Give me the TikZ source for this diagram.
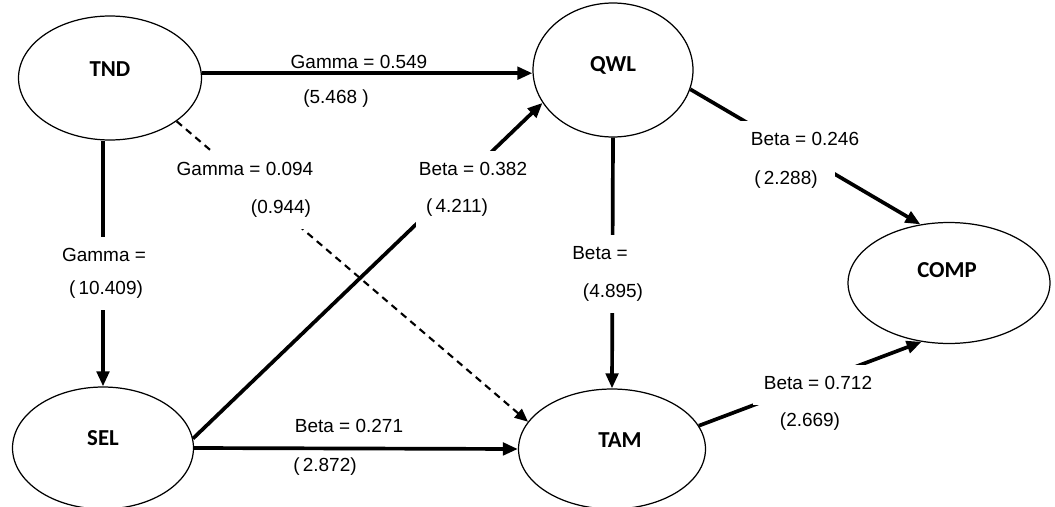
\documentclass[tikz,border=0pt]{standalone}
\usepackage{fontspec}
\setmainfont{Liberation Sans}
\newfontfamily\nodefont{Carlito}
\usetikzlibrary{arrows.meta,shapes.geometric}
\begin{document}
\begin{tikzpicture}[x=0.02cm,y=-0.02cm,
  ell/.style={draw, ellipse, line width=0.7pt, inner sep=0pt},
  ntext/.style={font=\nodefont\bfseries\fontsize{13}{15}\selectfont, inner sep=1pt},
  elab/.style={fill=white, font=\fontsize{10.8}{12}\selectfont, inner xsep=6pt, inner ysep=6.5pt, text height=7.8pt, text depth=2.2pt},
  elabnf/.style={elab, fill=none},
  arr/.style={line width=2.1pt, -{Triangle[length=8.5pt,width=7pt]}},
  darr/.style={line width=1.2pt, dash pattern=on 4pt off 3pt, -{Triangle[length=7.5pt,width=6.5pt]}}]
\useasboundingbox (0,0) rectangle (1055,507);
\fill[white] (0,0) rectangle (1055,507);

% latent variables
\node[ell, minimum width=3.66cm, minimum height=2.48cm] (tnd) at (110,78) {};
\node[ell, minimum width=3.2cm, minimum height=2.68cm] (qwl) at (613,70) {};
\node[ell, minimum width=4.04cm, minimum height=2.42cm] (comp) at (949,283) {};
\node[ell, minimum width=3.62cm, minimum height=2.44cm] (sel) at (103,448) {};
\node[ell, minimum width=3.74cm, minimum height=2.4cm] (tam) at (612,449) {};

\node[ntext] (tndt) at (110,69) {TND};
\node[ntext] (qwlt) at (613,65) {QWL};
\node[ntext] (compt) at (947,270) {COMP};
\node[ntext] (selt) at (103,438) {SEL};
\node[ntext] (tamt) at (620,440) {TAM};

% paths
\draw[arr] (tnd.3) -- (tnd.3 -| qwl.west);
\draw[arr] (tnd.south -| sel.north) -- (sel.north);
\draw[darr] (tnd.-33) -- (tam.162);
\draw[arr] (sel.6) -- (qwl.205);
\draw[arr] (sel.east) -- (tam.west);
\draw[arr] (qwl.south) -- (tam.north);
\draw[arr] (qwl.-14) -- (comp.116);
\draw[arr] (tam.15) -- (comp.245);

% labels
\node[elabnf] (g1a) at (359,64) {Gamma = 0.549};
\node[elabnf] (g1b) at (336,99) {(5.468 )};
\node[elab] (g2a) at (104,257) {Gamma =};
\node[elab] (g2b) at (106,290) {(\,10.409)};
\node[elab] (g3a) at (245,171) {Gamma = 0.094};
\node[elab] (g3b) at (281,209) {(0.944)};
\node[elab] (b1a) at (473,171) {Beta = 0.382};
\node[elab] (b1b) at (457,208) {(\,4.211)};
\node[elabnf] (b2a) at (349,428) {Beta = 0.271};
\node[elabnf] (b2b) at (325,467) {(\,2.872)};
\node[elab] (b3a) at (600,255) {Beta =};
\node[elab] (b3b) at (613,293) {(4.895)};
\node[elab, inner xsep=10pt] (b4b) at (786,180) {(\,2.288)};
\node[elab] (b4a) at (805,141) {Beta = 0.246};
\node[elab] (b5a) at (818,385) {Beta = 0.712};
\node[elab] (b5b) at (810,422) {(2.669)};
\end{tikzpicture}
\end{document}
